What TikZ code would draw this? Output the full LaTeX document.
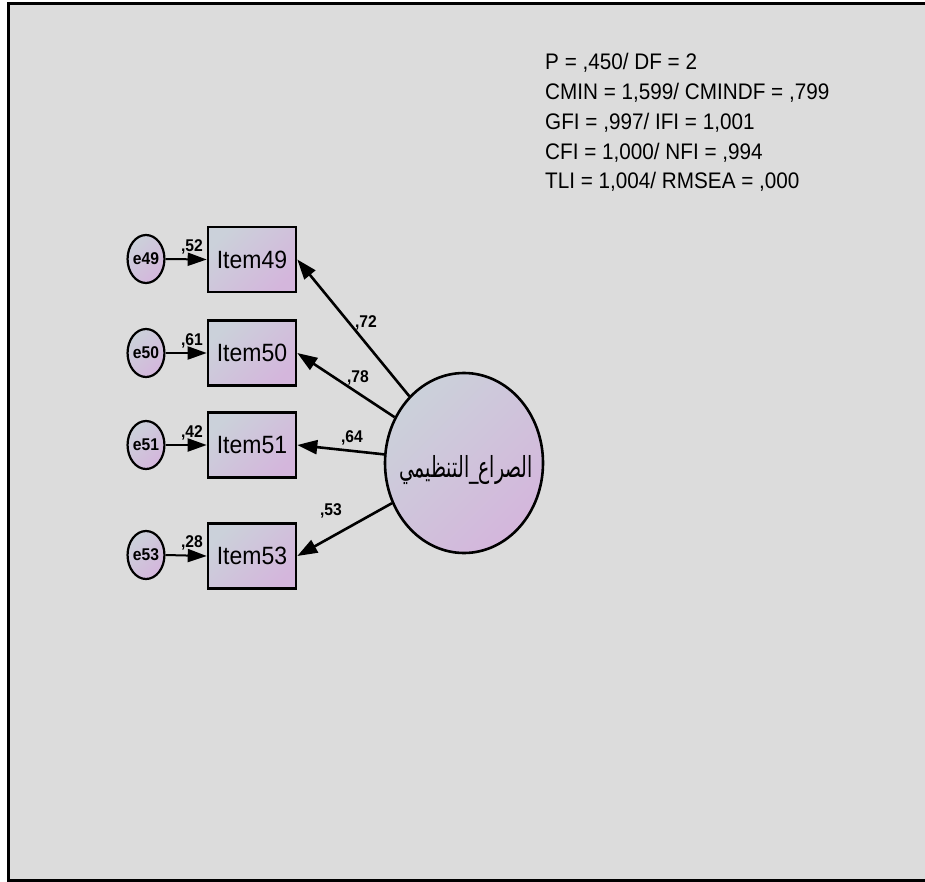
\documentclass[tikz,border=0pt]{standalone}
\usepackage{fontspec}
\setmainfont{Liberation Sans}
\newfontfamily\condfont[FakeStretch=0.92]{Liberation Sans}
\newfontfamily\arabicfont[Script=Arabic,FakeStretch=0.65]{DejaVu Sans}
\TeXXeTstate=1
\usetikzlibrary{arrows.meta,shapes.geometric}
\definecolor{bgc}{HTML}{DCDCDC}
\definecolor{fillA}{HTML}{CBD1DA}
\definecolor{fillB}{HTML}{D4B6DC}
\tikzset{
  grad/.style={top color=fillA, bottom color=fillB, shading angle=45},
  itembox/.style={draw, line width=2.6pt, grad, minimum width=88pt, minimum height=65pt, inner sep=0pt, font=\condfont\fontsize{25}{25}\selectfont},
  errnode/.style={draw, ellipse, line width=2.2pt, grad, minimum width=34pt, minimum height=48pt, inner sep=0pt, font=\condfont\fontsize{17}{17}\selectfont\bfseries},
  latnode/.style={draw, ellipse, line width=2.6pt, grad, minimum width=158pt, minimum height=180pt, inner sep=0pt},
  errarrow/.style={line width=2pt, -{Triangle[length=19pt,width=13pt]}},
  latarrow/.style={line width=2.6pt, -{Triangle[length=20pt,width=14pt]}},
  coef/.style={font=\condfont\fontsize{17}{17}\selectfont\bfseries, inner sep=0pt, anchor=base},
  fitline/.style={font=\condfont\fontsize{22.5}{22.5}\selectfont, anchor=base west, inner sep=0pt}
}
\begin{document}
\begin{tikzpicture}[x=1pt,y=-1pt]
\useasboundingbox (0,0) rectangle (925,882);
\fill[white] (0,0) rectangle (925,882);
\draw[line width=3pt, fill=bgc] (8,4) rectangle (940,880.5);

\node[fitline] (fit1) at (545,70) {P = ,450/ DF = 2};
\node[fitline] (fit2) at (545,100) {CMIN = 1,599/ CMINDF = ,799};
\node[fitline] (fit3) at (545,130) {GFI = ,997/ IFI = 1,001};
\node[fitline] (fit4) at (545,159.5) {CFI = 1,000/ NFI = ,994};
\node[fitline] (fit5) at (545,189) {TLI = 1,004/ RMSEA = ,000};

\node[latnode] (lat) at (464,463) {};
\node[anchor=base, inner sep=0pt] (latlabel) at (466,477) {\fontsize{29}{29}\selectfont\arabicfont\beginR الصراع\_التنظيمي\endR};

\node[itembox] (i49) at (252,259.5) {Item49};
\node[itembox] (i50) at (252,353) {Item50};
\node[itembox] (i51) at (252,445) {Item51};
\node[itembox] (i53) at (252,556) {Item53};

\node[errnode] (e49) at (146,259) {e49};
\node[errnode] (e50) at (146,353) {e50};
\node[errnode] (e51) at (146,445) {e51};
\node[errnode] (e53) at (146,555) {e53};

\draw[errarrow] (e49.east) -- (i49.west);
\draw[errarrow] (e50.east) -- (i50.west);
\draw[errarrow] (e51.east) -- (i51.west);
\draw[errarrow] (e53.east) -- (i53.west);

\draw[latarrow] (lat) -- (i49.east);
\draw[latarrow] (lat) -- (i50.east);
\draw[latarrow] (lat) -- (i51.east);
\draw[latarrow] (lat) -- (i53.east);

\node[coef] (c49) at (192,252) {,52};
\node[coef] (c50) at (192,345) {,61};
\node[coef] (c51) at (192,437) {,42};
\node[coef] (c53) at (192,547) {,28};

\node[coef] (l49) at (366,327) {,72};
\node[coef] (l50) at (358,382) {,78};
\node[coef] (l51) at (352,442) {,64};
\node[coef] (l53) at (331,515) {,53};
\end{tikzpicture}
\end{document}
